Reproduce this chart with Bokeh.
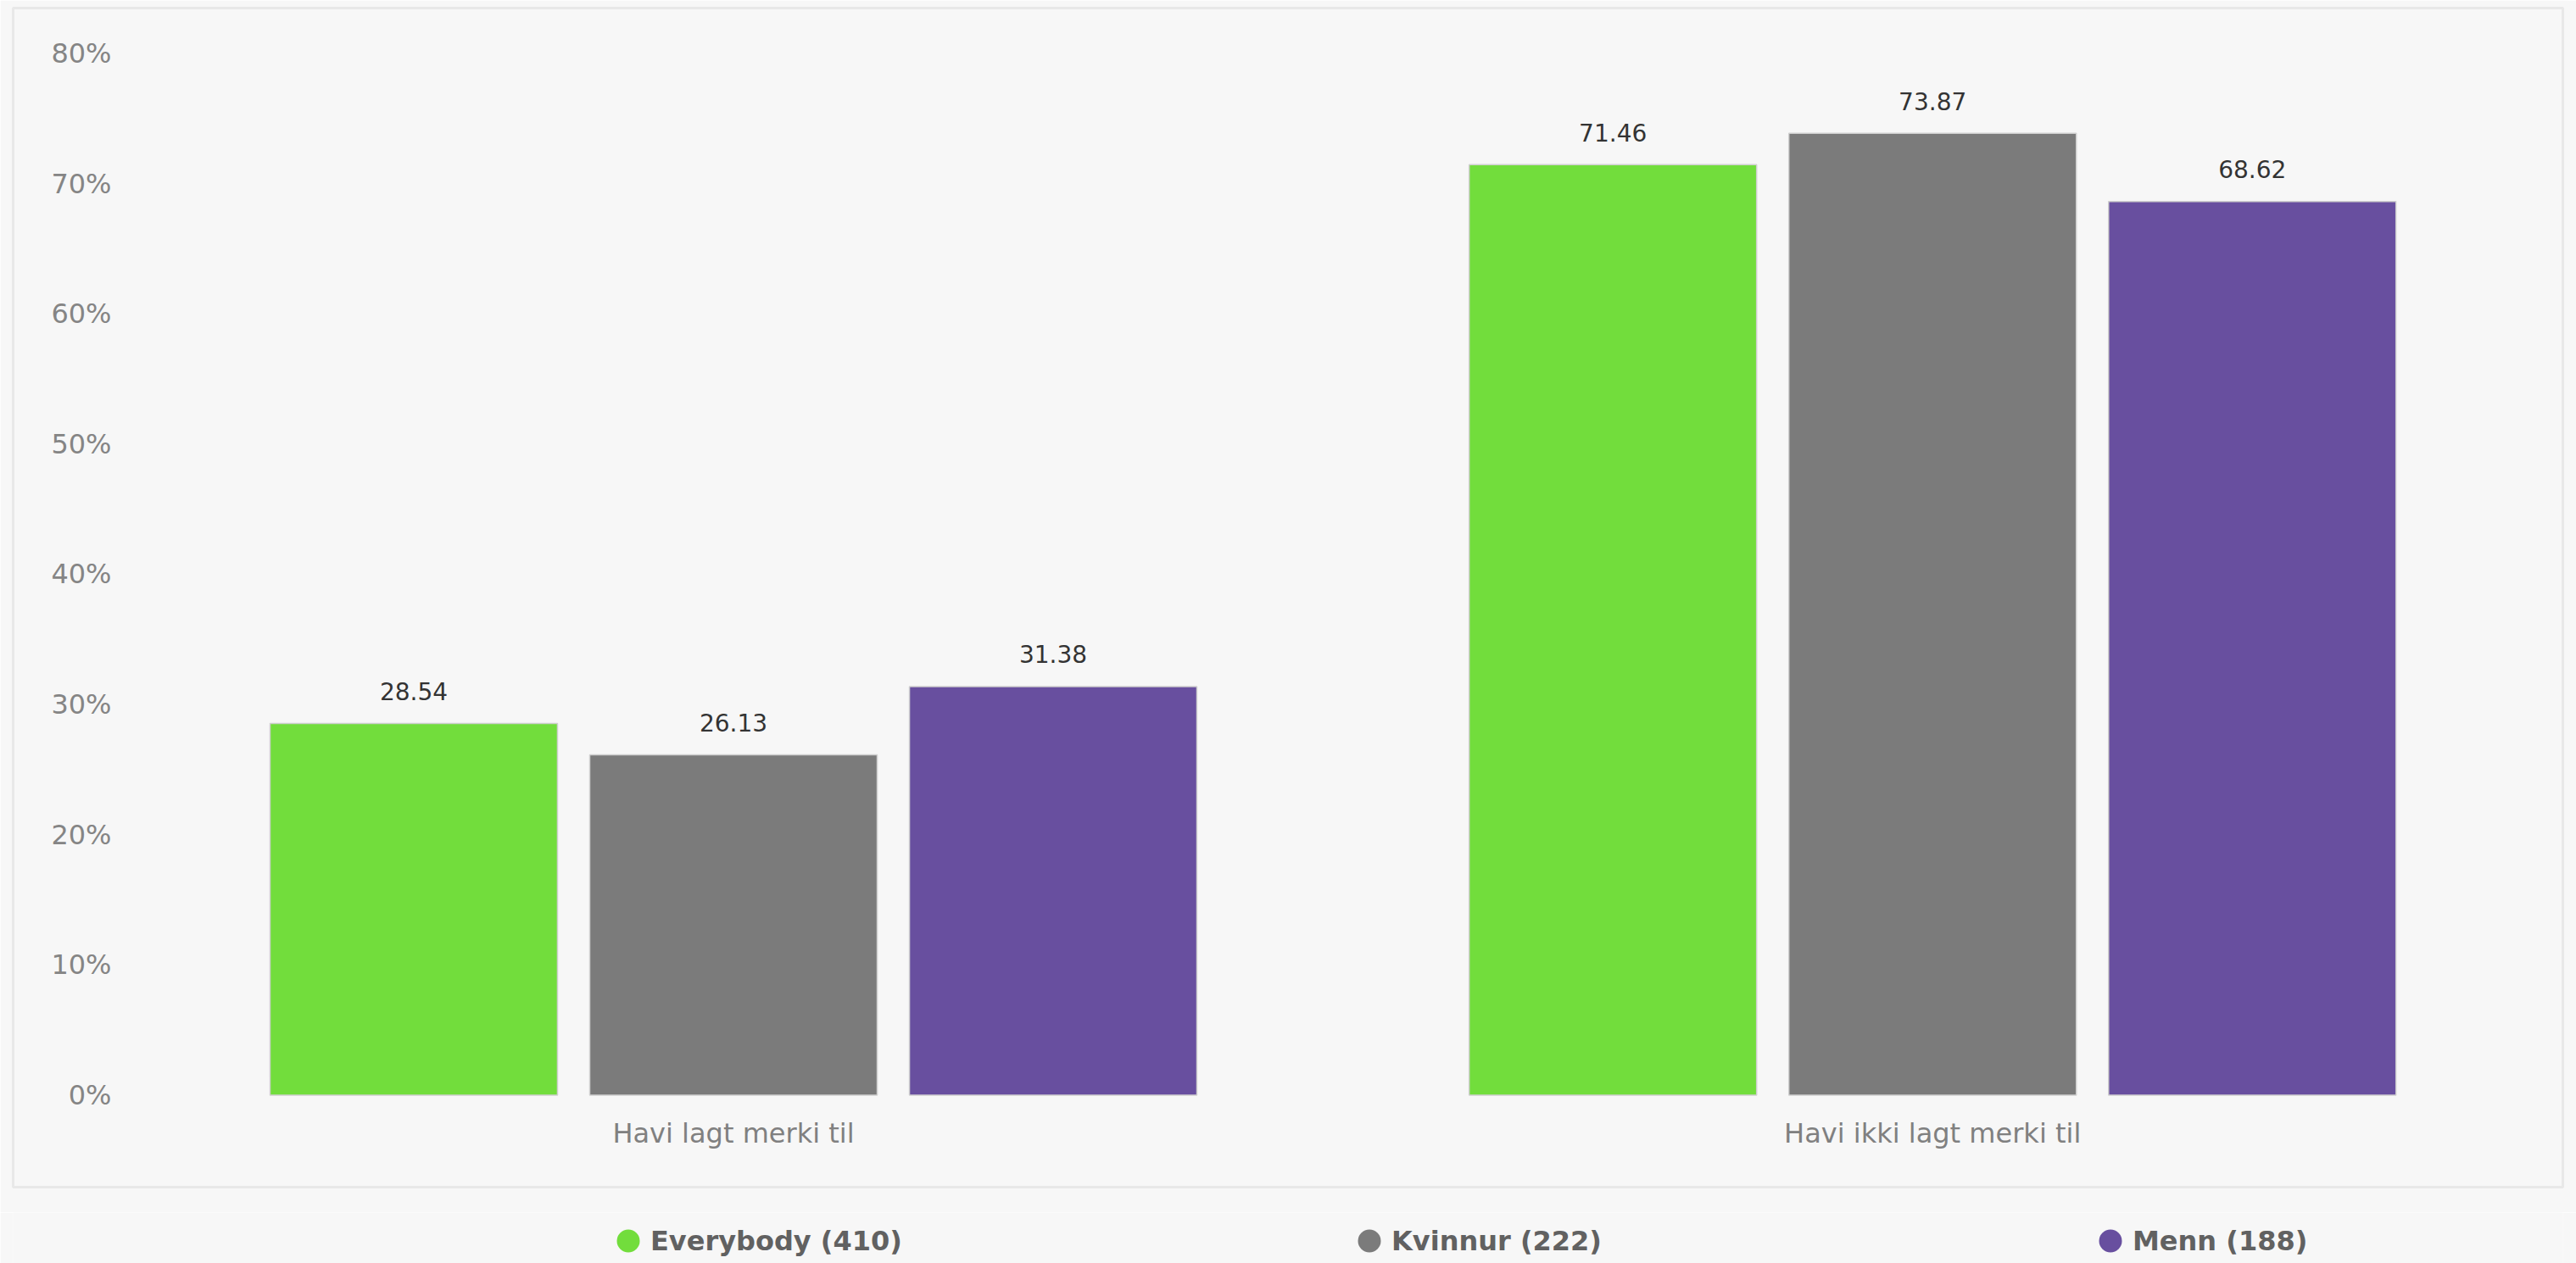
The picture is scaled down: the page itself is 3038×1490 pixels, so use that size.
from bokeh.plotting import figure
from bokeh.models import Range1d, LinearAxis, FixedTicker
from bokeh.layouts import column
from bokeh.core.properties import value
from bokeh.embed import file_html
from bokeh.resources import INLINE

# ---- data ----
categories = ["Havi lagt merki til", "Havi ikki lagt merki til"]
series = ["Everybody", "Kvinnur", "Menn"]
counts = [410, 222, 188]
everybody = [28.54, 71.46]
kvinnur = [26.13, 73.87]
menn = [31.38, 68.62]
y_ticks = [0, 10, 20, 30, 40, 50, 60, 70, 80]
y_tick_labels = ["0%", "10%", "20%", "30%", "40%", "50%", "60%", "70%", "80%"]

# ---- style ----
colors = ["#72dd3c", "#7b7b7b", "#684f9f"]
offsets = [-0.2666, 0.0, 0.2666]
bar_width = 0.2397
BG = "#f7f7f7"
FONT = "DejaVu Sans"

values_by_series = [everybody, kvinnur, menn]

p = figure(width=3038, height=1430,
           x_range=Range1d(-0.1007, 2.0256), y_range=Range1d(-7.063, 83.48),
           x_axis_type=None, y_axis_type=None,
           toolbar_location=None, output_backend="svg",
           min_border_left=15, min_border_right=16, min_border_top=9, min_border_bottom=30,
           background_fill_color=BG, border_fill_color=BG,
           outline_line_color="#e8e8e8", outline_line_width=3)

yaxis = LinearAxis(ticker=FixedTicker(ticks=y_ticks),
                   major_label_overrides={t: l for t, l in zip(y_ticks, y_tick_labels)},
                   axis_line_color=None, major_tick_line_color=None, minor_tick_line_color=None,
                   major_tick_out=0, major_tick_in=0, major_label_standoff=-116,
                   major_label_text_font=FONT, major_label_text_font_size="32px",
                   major_label_text_color="#858585")
p.add_layout(yaxis, "left")

cat_pos = [i + 0.5 for i in range(len(categories))]
xaxis = LinearAxis(ticker=FixedTicker(ticks=cat_pos),
                   major_label_overrides={t: c for t, c in zip(cat_pos, categories)},
                   axis_line_color=None, major_tick_line_color=None, minor_tick_line_color=None,
                   major_tick_out=0, major_tick_in=0, major_label_standoff=-83,
                   major_label_text_font=FONT, major_label_text_font_size="32px",
                   major_label_text_color="#808080")
p.add_layout(xaxis, "below")

for j, vals in enumerate(values_by_series):
    xs = [c + offsets[j] for c in cat_pos]
    p.vbar(x=xs, top=vals, bottom=0, width=bar_width,
           fill_color=colors[j], line_color="#cfcfcf", line_width=1.5)
    p.text(x=xs, y=vals, text=[f"{v:.2f}" for v in vals],
           text_align="center", text_baseline="middle", y_offset=-38,
           text_font=value(FONT), text_font_size="28px", text_color="#333333")

# ---- legend row (frame aligned with the main plot's frame) ----
leg = figure(width=3038, height=60,
             x_range=Range1d(-0.8301, 2.6104), y_range=Range1d(-26.5, 33.5),
             x_axis_type=None, y_axis_type=None,
             toolbar_location=None, output_backend="svg",
             min_border_left=15, min_border_right=16, min_border_top=0, min_border_bottom=0,
             background_fill_color=BG, border_fill_color=BG,
             outline_line_color=None)
idx = list(range(len(series)))
labels = [f"{s} ({n})" for s, n in zip(series, counts)]
leg.scatter(x=idx, y=[0] * len(idx), size=27, fill_color=colors, line_color=None)
leg.text(x=idx, y=[0] * len(idx), text=labels, x_offset=26,
         text_align="left", text_baseline="middle",
         text_font=value(FONT), text_font_size="32px", text_font_style="bold",
         text_color="#616161")

layout = column(p, leg, spacing=0)
open("out.html", "w").write(file_html(layout, INLINE))
